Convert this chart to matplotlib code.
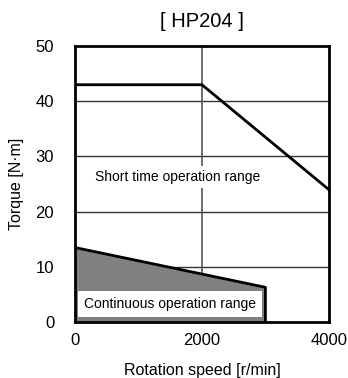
import matplotlib
matplotlib.use("Agg")
import numpy as np
import matplotlib.pyplot as plt

plt.rcParams['font.family'] = ['Liberation Sans', 'DejaVu Sans']

# short time operation range boundary
short_speed = [0, 2000, 4000]
short_torque = [43, 43, 24]
# continuous operation range boundary
cont_speed = [0, 3000, 3000]
cont_torque = [13.5, 6.3, 0]

fig = plt.figure(figsize=(3.48, 3.78), dpi=100)
ax = fig.add_axes([0.2155, 0.148, 0.7295, 0.73])

for y in [10, 20, 30, 40]:
    ax.axhline(y, color='#333333', lw=1, zorder=1)
ax.axvline(2000, color='#555555', lw=1.2, zorder=1)

ax.fill_between(cont_speed[:2], cont_torque[:2], 0, color='#808080', lw=0, zorder=2)
ax.plot(cont_speed, cont_torque, color='black', lw=2, zorder=3)
ax.plot(short_speed, short_torque, color='black', lw=2, zorder=3)

ax.text(1500, 3.3, 'Continuous operation range', ha='center', va='center', fontsize=10,
        zorder=4, bbox=dict(facecolor='white', edgecolor='none', boxstyle='square,pad=0.45'))
ax.text(315, 26.3, 'Short time operation range', ha='left', va='center', fontsize=10,
        zorder=4, bbox=dict(facecolor='white', edgecolor='none', boxstyle='square,pad=0.3'))

ax.set_xlim(0, 4000)
ax.set_ylim(0, 50)
ax.set_xticks([0, 2000, 4000])
ax.set_yticks([0, 10, 20, 30, 40, 50])
ax.tick_params(length=0, labelsize=12)
ax.tick_params(axis='y', pad=15)
ax.tick_params(axis='x', pad=8)
for s in ax.spines.values():
    s.set_linewidth(2)

ax.set_title('[ HP204 ]', fontsize=14.5, pad=14)
ax.set_xlabel('Rotation speed [r/min]', fontsize=11.5, labelpad=11)
ax.set_ylabel('Torque [N·m]', fontsize=11.5, labelpad=8)

fig.savefig('out.png', dpi=100)
